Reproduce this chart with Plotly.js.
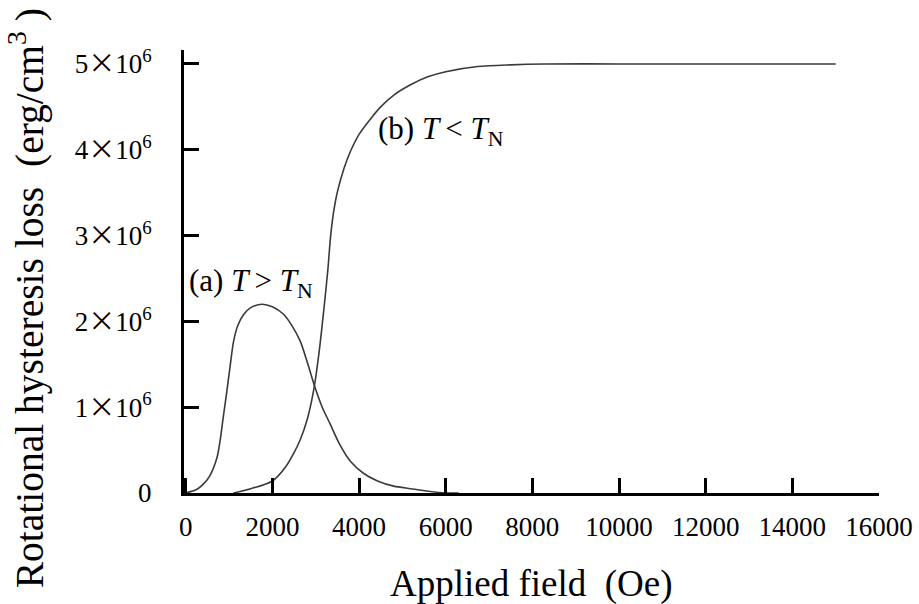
<!DOCTYPE html>
<html>
<head>
<meta charset="utf-8">
<script src="https://cdn.plot.ly/plotly-3.0.1.min.js"></script>
<style>html,body{margin:0;padding:0;background:#fff;}</style>
</head>
<body>
<div id="chart" style="width:919px;height:604px;"></div>
<script>
// Curve (a): T > T_N
const fieldA = [0, 250, 400, 556, 720, 790, 870, 950, 1030, 1105, 1200, 1337, 1500, 1761, 2000, 2264, 2450, 2642, 2820, 2990, 3150, 3337, 3550, 3800, 4100, 4426, 4800, 5190, 5600, 6000, 6300];
const lossA  = [0, 0.04, 0.1, 0.2, 0.41, 0.6, 0.9, 1.19, 1.5, 1.77, 1.95, 2.08, 2.16, 2.2, 2.17, 2.08, 1.95, 1.77, 1.5, 1.22, 1.0, 0.8, 0.57, 0.37, 0.23, 0.14, 0.08, 0.05, 0.02, 0.0, 0.0];
// Curve (b): T < T_N
const fieldB = [1100, 1500, 2000, 2300, 2500, 2642, 2800, 2960, 3080, 3190, 3280, 3345, 3420, 3500, 3650, 3800, 4000, 4265, 4500, 4810, 5200, 5585, 6000, 6740, 7500, 8290, 10000, 12000, 15000];
const lossB  = [0, 0.05, 0.14, 0.3, 0.47, 0.62, 0.85, 1.22, 1.65, 2.15, 2.6, 3.0, 3.3, 3.51, 3.78, 3.98, 4.18, 4.36, 4.5, 4.64, 4.76, 4.85, 4.91, 4.97, 4.99, 5.0, 5.0, 5.0, 5.0];
const unit = 1e6;

const xTicks = [0, 2000, 4000, 6000, 8000, 10000, 12000, 14000, 16000];
const yTickVals = [0, 1, 2, 3, 4, 5];
const yTickText = ['0', '1', '2', '3', '4', '5'];

const cross = "<span style='font-family:Noto Sans CJK JP'>×</span>";
const serif = 'Liberation Serif, Times New Roman, serif';

const traces = [
  {x: fieldA, y: lossA.map(v => v * unit), mode: 'lines', line: {color: '#3a3a3a', width: 1.6, shape: 'spline', smoothing: 0.8}, hoverinfo: 'skip'},
  {x: fieldB, y: lossB.map(v => v * unit), mode: 'lines', line: {color: '#3a3a3a', width: 1.6, shape: 'spline', smoothing: 0.8}, hoverinfo: 'skip'}
];

const layout = {
  width: 919, height: 604,
  margin: {l: 184, r: 40, t: 50, b: 111, pad: 0},
  paper_bgcolor: '#ffffff', plot_bgcolor: '#ffffff',
  showlegend: false,
  font: {family: serif, color: '#000', size: 27},
  xaxis: {
    range: [-40, 16000], tickvals: xTicks, ticktext: xTicks.map(String),
    ticks: 'inside', ticklen: 15, tickwidth: 3, tickcolor: '#000',
    showline: true, linewidth: 3, linecolor: '#000', showgrid: false, zeroline: false,
    tickfont: {family: serif, size: 27, color: '#000'}, ticklabelstandoff: 8
  },
  yaxis: {
    range: [0, 5.163e6], tickvals: yTickVals.map(v => v * unit),
    ticktext: yTickText.map(t => t === '0' ? '0' : t + cross + '10<sup>6</sup>'),
    ticks: 'inside', ticklen: 15, tickwidth: 3, tickcolor: '#000',
    showline: true, linewidth: 3, linecolor: '#000', showgrid: false, zeroline: false,
    tickfont: {family: serif, size: 27, color: '#000'}, ticklabelstandoff: 24
  },
  annotations: [
    {xref: 'paper', yref: 'paper', x: 0.5, y: -0.205, xanchor: 'center', yanchor: 'middle', showarrow: false,
     text: 'Applied field\u00a0\u00a0(Oe)', font: {family: serif, size: 37, color: '#000'}},
    {xref: 'paper', yref: 'paper', x: -0.227, y: 0.44, xanchor: 'center', yanchor: 'middle', showarrow: false, textangle: -90,
     text: 'Rotational hysteresis loss\u00a0\u00a0(erg/cm<sup>3</sup>\u00a0)', font: {family: serif, size: 39.5, color: '#000'}},
    {xref: 'x', yref: 'y', x: 40, y: 2.45 * unit, xanchor: 'left', yanchor: 'middle', showarrow: false,
     text: '(a) <i>T</i>\u2009&gt; <i>T</i><sub>N</sub>', font: {family: serif, size: 31, color: '#000'}},
    {xref: 'x', yref: 'y', x: 4400, y: 4.22 * unit, xanchor: 'left', yanchor: 'middle', showarrow: false,
     text: '(b) <i>T</i>\u2009&lt; <i>T</i><sub>N</sub>', font: {family: serif, size: 31, color: '#000'}}
  ]
};

Plotly.newPlot('chart', traces, layout, {displayModeBar: false, staticPlot: true});
</script>
</body>
</html>
